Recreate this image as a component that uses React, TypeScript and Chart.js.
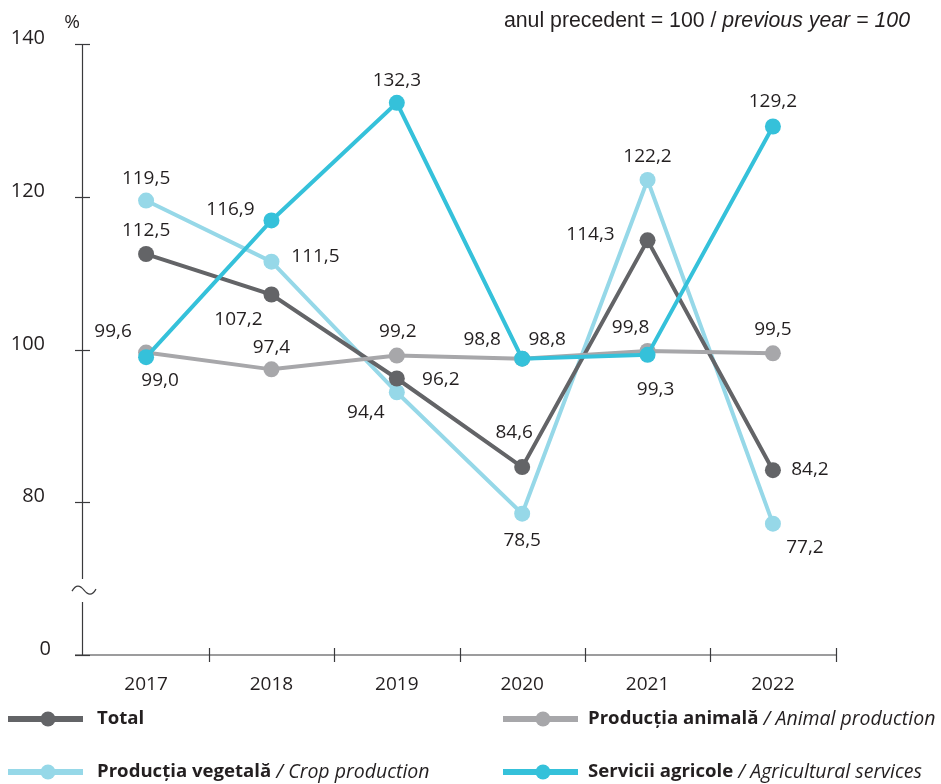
import { useEffect, useRef } from "react";
import { Chart, registerables } from "chart.js";

Chart.register(...registerables);

const years = ["2017", "2018", "2019", "2020", "2021", "2022"];
const totalValues = [112.5, 107.2, 96.2, 84.6, 114.3, 84.2];
const animalValues = [99.6, 97.4, 99.2, 98.8, 99.8, 99.5];
const cropValues = [119.5, 111.5, 94.4, 78.5, 122.2, 77.2];
const servicesValues = [99.0, 116.9, 132.3, 98.8, 99.3, 129.2];
const yTickValues = [60, 80, 100, 120, 140];
const yTickLabels = ["0", "80", "100", "120", "140"];
const breakValue = 68.5;

// label offsets (dx, dy) from each point
const totalLabelOffsets = [[0, -23], [-33, 25], [44, 1], [-8, -35], [-57, -6], [37, -1]];
const animalLabelOffsets = [[-33, -21], [0, -22], [1, -24], [-40, -19], [-17, -23], [0, -24]];
const cropLabelOffsets = [[0, -22], [44, -5], [-31, 20], [0, 27], [0, -23], [32, 24]];
const servicesLabelOffsets = [[14, 23], [-41, -11], [0, -22], [25, -19], [8, 35], [0, -25]];

const C_TOTAL = "#636467";
const C_ANIMAL = "#a7a7aa";
const C_CROP = "#96d8e8";
const C_SERV = "#35c1da";
const TXT = "#231f20";
const FONT = "'Open Sans', 'Noto Sans', sans-serif";

const legendItems = [
  { color: C_TOTAL, bold: "Total", italic: "", x: 8, y: 719, tx: 97 },
  { color: C_ANIMAL, bold: "Producția animală", italic: "Animal production", x: 503, y: 719, tx: 588 },
  { color: C_CROP, bold: "Producția vegetală", italic: "Crop production", x: 8, y: 772, tx: 97 },
  { color: C_SERV, bold: "Servicii agricole", italic: "Agricultural services", x: 503, y: 772, tx: 588 },
];

const fmt = (v: number) => v.toFixed(1).replace(".", ",");

const decorPlugin = {
  id: "decor",
  afterDatasetsDraw(chart: any) {
    const ctx = chart.ctx as CanvasRenderingContext2D;
    const xs = chart.scales.x;
    const ys = chart.scales.y;
    ctx.save();
    // axes
    ctx.strokeStyle = "#3a3a3c";
    ctx.lineWidth = 1.2;
    const axX = 82.5;
    const axY = ys.getPixelForValue(60);
    const topY = ys.getPixelForValue(140);
    const brk = ys.getPixelForValue(breakValue);
    ctx.beginPath();
    ctx.moveTo(axX, topY);
    ctx.lineTo(axX, brk - 11);
    ctx.moveTo(axX, brk + 12);
    ctx.lineTo(axX, axY);
    ctx.stroke();
    // break tilde
    ctx.beginPath();
    ctx.moveTo(72, brk + 1);
    ctx.bezierCurveTo(76, brk - 6, 80, brk - 5, 84, brk);
    ctx.bezierCurveTo(88, brk + 5, 92, brk + 6, 96, brk - 1);
    ctx.stroke();
    // y ticks
    yTickValues.forEach((v, i) => {
      const y = Math.round(ys.getPixelForValue(v)) + 0.5;
      ctx.beginPath();
      ctx.moveTo(75, y);
      ctx.lineTo(90, y);
      ctx.stroke();
      ctx.fillStyle = TXT;
      ctx.font = `20px ${FONT}`;
      ctx.textAlign = "right";
      ctx.textBaseline = "alphabetic";
      ctx.fillText(yTickLabels[i], v === 60 ? 51 : 45, y - 1);
    });
    // x axis
    ctx.beginPath();
    ctx.moveTo(75, axY);
    ctx.lineTo(837, axY);
    ctx.stroke();
    const step = xs.getPixelForValue(1) - xs.getPixelForValue(0);
    for (let i = 1; i <= years.length; i++) {
      const x = Math.round(xs.getPixelForValue(i - 1) + step / 2) + 0.5;
      ctx.beginPath();
      ctx.moveTo(x, axY - 7);
      ctx.lineTo(x, axY + 7);
      ctx.stroke();
    }
    ctx.fillStyle = TXT;
    ctx.font = `19px ${FONT}`;
    ctx.textAlign = "center";
    years.forEach((yr, i) => {
      ctx.fillText(yr, xs.getPixelForValue(i), 690);
    });
    // "%" and note
    ctx.font = `19px ${FONT}`;
    ctx.fillText("%", 72, 28);
    ctx.textAlign = "right";
    const ital = "previous year = 100";
    ctx.font = `italic 21.3px 'Liberation Sans', Arial, sans-serif`;
    const wI = ctx.measureText(ital).width;
    ctx.fillText(ital, 910, 27);
    ctx.font = `21.3px 'Liberation Sans', Arial, sans-serif`;
    ctx.fillText("anul precedent = 100 / ", 910 - wI, 27);

    // data labels
    ctx.font = `19px ${FONT}`;
    ctx.textAlign = "center";
    ctx.textBaseline = "middle";
    ctx.fillStyle = TXT;
    const sets: [number[], number[][]][] = [
      [totalValues, totalLabelOffsets],
      [animalValues, animalLabelOffsets],
      [cropValues, cropLabelOffsets],
      [servicesValues, servicesLabelOffsets],
    ];
    sets.forEach(([vals, offs]) => {
      vals.forEach((v, i) => {
        const x = xs.getPixelForValue(i) + offs[i][0];
        const y = ys.getPixelForValue(v) + offs[i][1];
        ctx.fillText(fmt(v), x, y);
      });
    });

    // legend
    legendItems.forEach((it) => {
      ctx.strokeStyle = it.color;
      ctx.lineWidth = 6;
      ctx.beginPath();
      ctx.moveTo(it.x, it.y);
      ctx.lineTo(it.x + 75, it.y);
      ctx.stroke();
      ctx.fillStyle = it.color;
      ctx.beginPath();
      ctx.arc(it.x + 40, it.y, 7.5, 0, Math.PI * 2);
      ctx.fill();
      ctx.fillStyle = TXT;
      ctx.textAlign = "left";
      ctx.textBaseline = "middle";
      ctx.font = `bold 18.6px ${FONT}`;
      const tx = it.tx;
      ctx.fillText(it.bold, tx, it.y);
      if (it.italic) {
        let w = ctx.measureText(it.bold).width;
        ctx.font = `italic 19.5px ${FONT}`;
        const sep = " / ";
        ctx.fillText(sep, tx + w, it.y);
        w += ctx.measureText(sep).width;
        ctx.fillText(it.italic, tx + w, it.y);
      }
    });
    ctx.restore();
  },
};

export default function App() {
  const ref = useRef<HTMLCanvasElement | null>(null);
  useEffect(() => {
    if (!ref.current) return;
    const mk = (label: string, data: number[], color: string, order: number) => ({
      label,
      data,
      borderColor: color,
      backgroundColor: color,
      pointBackgroundColor: color,
      pointBorderWidth: 0,
      pointRadius: 8,
      borderWidth: 4,
      tension: 0,
      order,
    });
    const chart = new Chart(ref.current, {
      type: "line",
      data: {
        labels: years,
        datasets: [
          mk("Servicii agricole", servicesValues, C_SERV, 0),
          mk("Producția animală", animalValues, C_ANIMAL, 1),
          mk("Total", totalValues, C_TOTAL, 2),
          mk("Producția vegetală", cropValues, C_CROP, 3),
        ],
      },
      options: {
        responsive: false,
        animation: false,
        layout: { padding: { left: 83.4, right: 105.4, top: 44, bottom: 129 } },
        plugins: { legend: { display: false }, tooltip: { enabled: false } },
        scales: {
          x: { type: "category", offset: true, display: false },
          y: { min: 60, max: 140, display: false },
        },
      },
      plugins: [decorPlugin],
    });
    return () => chart.destroy();
  }, []);
  return (
    <div style={{ position: "absolute", left: 0, top: 0, width: 941, height: 784, background: "#fff" }}>
      <canvas ref={ref} width={941} height={784} style={{ display: "block" }} />
    </div>
  );
}
